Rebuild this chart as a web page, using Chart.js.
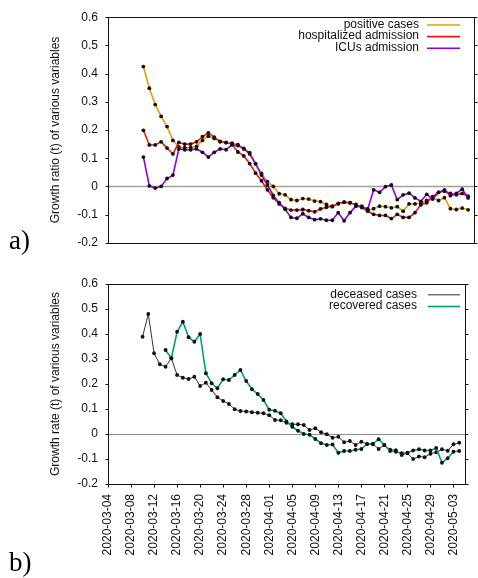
<!DOCTYPE html>
<html><head><meta charset="utf-8">
<script src="https://cdn.jsdelivr.net/npm/chart.js@4/dist/chart.umd.min.js"></script>
<style>
html,body{margin:0;padding:0;background:#fff;}
#wrap{position:relative;width:478px;height:578px;overflow:hidden;}
#c1{position:absolute;left:0;top:0;}
#c2{position:absolute;left:0;top:260px;}
</style></head><body>
<div id="wrap"><canvas id="c1" width="478" height="260"></canvas><canvas id="c2" width="478" height="318"></canvas></div>
<script>
const dates = ['2020-03-10','2020-03-11','2020-03-12','2020-03-13','2020-03-14','2020-03-15','2020-03-16','2020-03-17','2020-03-18','2020-03-19',
'2020-03-20','2020-03-21','2020-03-22','2020-03-23','2020-03-24','2020-03-25','2020-03-26','2020-03-27','2020-03-28','2020-03-29',
'2020-03-30','2020-03-31','2020-04-01','2020-04-02','2020-04-03','2020-04-04','2020-04-05','2020-04-06','2020-04-07','2020-04-08',
'2020-04-09','2020-04-10','2020-04-11','2020-04-12','2020-04-13','2020-04-14','2020-04-15','2020-04-16','2020-04-17','2020-04-18',
'2020-04-19','2020-04-20','2020-04-21','2020-04-22','2020-04-23','2020-04-24','2020-04-25','2020-04-26','2020-04-27','2020-04-28',
'2020-04-29','2020-04-30','2020-05-01','2020-05-02','2020-05-03','2020-05-04'];

const positiveCases = [0.425,0.348,0.29,0.248,0.212,0.163,0.14,0.137,0.137,0.142,
 0.163,0.178,0.17,0.158,0.155,0.153,0.148,0.135,0.12,0.081,
 0.046,0.017,0,-0.026,-0.03,-0.047,-0.05,-0.043,-0.045,-0.052,
 -0.054,-0.064,-0.072,-0.062,-0.056,-0.058,-0.064,-0.07,-0.085,-0.079,
 -0.07,-0.072,-0.076,-0.072,-0.088,-0.062,-0.062,-0.06,-0.05,-0.04,
 -0.05,-0.04,-0.079,-0.082,-0.077,-0.083];

const hospitalizedAdmission = [0.199,0.147,0.147,0.158,0.136,0.115,0.156,0.15,0.15,0.158,
 0.176,0.19,0.175,0.16,0.156,0.15,0.122,0.108,0.081,0.047,
 0.02,-0.012,-0.04,-0.062,-0.078,-0.084,-0.084,-0.082,-0.086,-0.09,
 -0.08,-0.074,-0.07,-0.06,-0.056,-0.058,-0.066,-0.075,-0.088,-0.099,
 -0.103,-0.103,-0.114,-0.099,-0.11,-0.11,-0.093,-0.065,-0.058,-0.036,
 -0.021,-0.017,-0.025,-0.03,-0.025,-0.035];

const icuAdmission = [0.104,0.002,-0.006,0.0,0.028,0.04,0.133,0.13,0.13,0.133,
 0.121,0.104,0.121,0.133,0.13,0.147,0.145,0.133,0.115,0.08,
 0.04,0.005,-0.032,-0.058,-0.081,-0.11,-0.113,-0.097,-0.11,-0.118,
 -0.115,-0.12,-0.12,-0.093,-0.122,-0.093,-0.07,-0.072,-0.08,-0.012,
 -0.021,-0.001,0.005,-0.047,-0.03,-0.024,-0.041,-0.053,-0.028,-0.045,
 -0.021,-0.012,-0.033,-0.025,-0.01,-0.041];

const deceasedCases = [0.389,0.48,0.323,0.279,0.269,0.303,0.236,0.225,0.22,0.229,
 0.192,0.205,0.176,0.147,0.132,0.12,0.099,0.092,0.09,0.087,
 0.085,0.083,0.075,0.056,0.055,0.045,0.039,0.039,0.036,0.016,
 0.023,0.007,-0.001,-0.015,-0.011,-0.033,-0.028,-0.044,-0.031,-0.04,
 -0.04,-0.06,-0.044,-0.063,-0.065,-0.084,-0.077,-0.1,-0.09,-0.093,
 -0.079,-0.073,-0.061,-0.067,-0.041,-0.035];

const recoveredCases = [null,null,null,null,0.336,0.303,0.409,0.449,0.387,0.369,
 0.4,0.243,0.203,0.183,0.219,0.216,0.236,0.256,0.212,0.179,
 0.16,0.136,0.097,0.093,0.083,0.05,0.029,0.013,0.0,-0.003,
 -0.02,-0.037,-0.044,-0.042,-0.075,-0.068,-0.068,-0.063,-0.06,-0.04,
 -0.04,-0.021,-0.044,-0.068,-0.071,-0.077,-0.075,-0.066,-0.061,-0.066,
 -0.066,-0.056,-0.115,-0.097,-0.071,-0.068];

const xTickLabels = ['2020-03-04','2020-03-08','2020-03-12','2020-03-16','2020-03-20','2020-03-24','2020-03-28','2020-04-01',
 '2020-04-05','2020-04-09','2020-04-13','2020-04-17','2020-04-21','2020-04-25','2020-04-29','2020-05-03'];
const xRange = ['2020-03-04','2020-05-05'];
const yRange = [-0.2, 0.6];
const yStep = 0.1;

const FONT = "'Liberation Sans', Arial, Helvetica, sans-serif";
const dayOf = s => Math.round((Date.parse(s) - Date.parse(xRange[0])) / 86400000);
const toPts = arr => dates.map((d, i) => ({x: dayOf(d), y: arr[i]}));
const tickLabelByDay = {};
xTickLabels.forEach(l => { tickLabelByDay[dayOf(l)] = l; });

const deco = {
  id: 'deco',
  beforeDatasetsDraw(chart, args, o) {
    const {ctx, chartArea: a, scales: {y}} = chart;
    const yz = Math.round(y.getPixelForValue(0)) + 0.5;
    ctx.save();
    ctx.strokeStyle = o.zeroColor; ctx.lineWidth = o.zeroWidth;
    ctx.beginPath(); ctx.moveTo(a.left, yz); ctx.lineTo(a.right, yz); ctx.stroke();
    ctx.restore();
  },
  afterDatasetsDraw(chart, args, o) {
    const {ctx, chartArea: a, scales: {x, y}} = chart;
    ctx.save();
    ctx.strokeStyle = '#111'; ctx.lineWidth = 1;
    const L = Math.round(a.left) + 0.5, R = Math.round(a.right) + 0.5, T = Math.round(a.top) + 0.5, B = Math.round(a.bottom) + 0.5;
    ctx.strokeRect(L, T, R - L, B - T);
    ctx.beginPath();
    y.ticks.forEach(t => {
      const py = Math.round(y.getPixelForValue(t.value)) + 0.5;
      ctx.moveTo(L - 3, py); ctx.lineTo(L, py);
      ctx.moveTo(R, py); ctx.lineTo(R + 3, py);
    });
    if (o.xTicks) {
      x.ticks.forEach(t => {
        const px = Math.round(x.getPixelForValue(t.value)) + 0.5;
        ctx.moveTo(px, B); ctx.lineTo(px, B + 3);
      });
    }
    ctx.stroke();
    ctx.fillStyle = '#111';
    ctx.font = '12px ' + FONT;
    ctx.textAlign = 'center'; ctx.textBaseline = 'middle';
    ctx.translate(o.titleX, (a.top + a.bottom) / 2);
    ctx.rotate(-Math.PI / 2);
    ctx.fillText(o.title, 0, 0);
    ctx.setTransform(1, 0, 0, 1, 0, 0);
    ctx.font = '12px ' + FONT;
    ctx.textAlign = 'right'; ctx.textBaseline = 'middle';
    chart.data.datasets.forEach((ds, i) => {
      const row = o.legendOrder.indexOf(i);
      const ly = o.legendY + row * o.legendGap;
      ctx.fillStyle = '#111';
      ctx.fillText(ds.label, o.legendTextRight, ly);
      ctx.strokeStyle = ds.borderColor; ctx.lineWidth = ds.borderWidth;
      ctx.beginPath(); ctx.moveTo(o.legendLine[0], ly + 0.5); ctx.lineTo(o.legendLine[1], ly + 0.5); ctx.stroke();
    });
    ctx.fillStyle = '#000';
    ctx.font = o.panelFont;
    ctx.textAlign = 'left'; ctx.textBaseline = 'alphabetic';
    ctx.fillText(o.panelLabel, o.panelX, o.panelY);
    ctx.restore();
  }
};

function ds(label, data, color, width) {
  return {label, data: toPts(data), borderColor: color, backgroundColor: color, borderWidth: width,
    pointRadius: 1.9, pointBackgroundColor: '#111', pointBorderWidth: 0, pointHoverRadius: 1.9,
    tension: 0, fill: false, spanGaps: false};
}

function yScale() {
  return {type: 'linear', min: yRange[0], max: yRange[1],
    ticks: {stepSize: yStep, padding: 10, color: '#111', font: {family: FONT, size: 12},
      callback: v => String(Math.round(v * 10) / 10)},
    grid: {display: false, drawTicks: false}, border: {display: false},
    afterFit: s => { s.width = 108; }};
}

Chart.defaults.animation = false;

new Chart(document.getElementById('c1'), {
  type: 'line',
  data: {datasets: [
    Object.assign(ds('positive cases', positiveCases, '#e69f00', 1.6), {order: 3}),
    Object.assign(ds('hospitalized admission', hospitalizedAdmission, '#e51e10', 1.6), {order: 2}),
    Object.assign(ds('ICUs admission', icuAdmission, '#9400d3', 1.6), {order: 1})
  ]},
  options: {
    responsive: false, animation: false, events: [],
    layout: {padding: {top: 14, bottom: 16, right: 4, left: 0}},
    scales: {
      x: {type: 'linear', display: false, min: dayOf(xRange[0]), max: dayOf(xRange[1])},
      y: yScale()
    },
    plugins: {legend: {display: false}, tooltip: {enabled: false},
      deco: {zeroColor: '#a0a0a0', zeroWidth: 1.5, xTicks: false,
        title: 'Growth ratio (t) of various variables', titleX: 56,
        legendOrder: [0, 1, 2], legendY: 24.5, legendGap: 11.6, legendTextRight: 419, legendLine: [427, 460],
        panelLabel: 'a)', panelFont: "27px 'Liberation Serif', 'DejaVu Serif', serif", panelX: 9, panelY: 249}}
  },
  plugins: [deco]
});

new Chart(document.getElementById('c2'), {
  type: 'line',
  data: {datasets: [
    Object.assign(ds('deceased cases', deceasedCases, '#333333', 1), {order: 2}),
    Object.assign(ds('recovered cases', recoveredCases, '#009e73', 1.6), {order: 1})
  ]},
  options: {
    responsive: false, animation: false, events: [],
    layout: {padding: {top: 24, bottom: 0, right: 4, left: 0}},
    scales: {
      x: {type: 'linear', min: dayOf(xRange[0]), max: dayOf(xRange[1]),
        afterBuildTicks: s => { s.ticks = xTickLabels.map(l => ({value: dayOf(l)})); },
        ticks: {autoSkip: false, minRotation: 90, maxRotation: 90, padding: 10, color: '#111',
          font: {family: FONT, size: 12}, callback: v => tickLabelByDay[v] || ''},
        grid: {display: false, drawTicks: false}, border: {display: false},
        afterFit: s => { s.height = 94; }},
      y: yScale()
    },
    plugins: {legend: {display: false}, tooltip: {enabled: false},
      deco: {zeroColor: '#909090', zeroWidth: 1, xTicks: true,
        title: 'Growth rate (t) of various variables', titleX: 56,
        legendOrder: [0, 1], legendY: 34.3, legendGap: 11.7, legendTextRight: 417, legendLine: [428, 460],
        panelLabel: 'b)', panelFont: "27px 'Liberation Serif', 'DejaVu Serif', serif", panelX: 9, panelY: 311}}
  },
  plugins: [deco]
});
</script>
</body></html>
